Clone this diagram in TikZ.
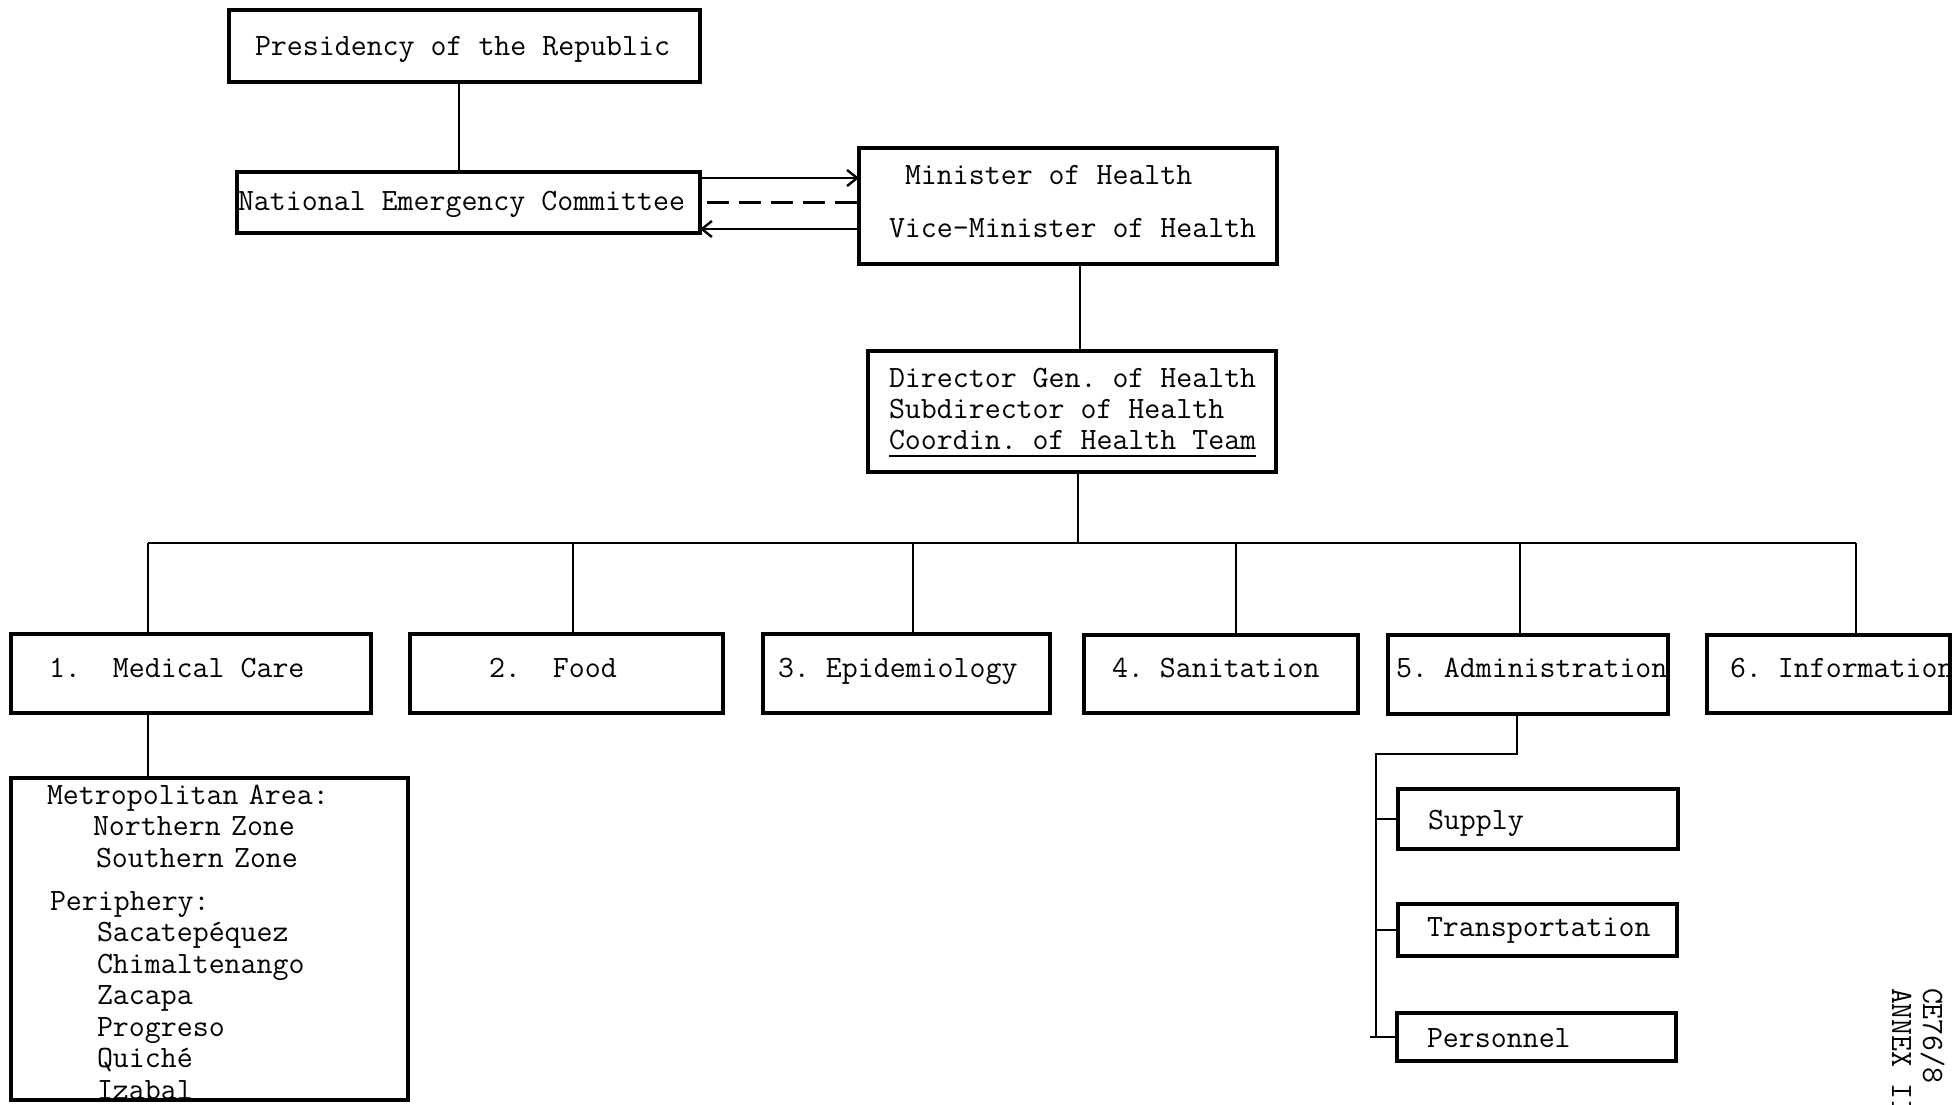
\documentclass[tikz,border=0pt]{standalone}
\usepackage{fontspec}
\usetikzlibrary{arrows.meta,calc}
\newcommand\tyfont{\fontsize{15.5}{15.75}\selectfont\ttfamily\frenchspacing}
\tikzset{
  box/.style={draw, line width=1.8pt, inner sep=0pt, outer sep=0pt, anchor=north west},
  txt/.style={inner sep=0pt, outer sep=0pt, anchor=base west, font=\tyfont},
  conn/.style={line width=1.2pt},
  arr/.style={conn, -{Straight Barb[length=5pt,width=8pt,line width=1.2pt]}},
}
\newcommand\mkbox[5]{\node[box, minimum width={(#4-#2)*0.5pt}, minimum height={(#5-#3)*0.5pt}] (#1) at (#2,#3) {};}
\begin{document}
\begin{tikzpicture}[x=0.5pt,y=-0.5pt]
\useasboundingbox (0,0) rectangle (1952,1104);
% top boxes
\mkbox{pres}{229}{10}{700}{82}
\node[txt] (prest) at (255,55) {Presidency of the Republic};
\mkbox{nec}{237}{172}{700}{233}
\node[txt] (nect) at (238,210) {National Emergency Committee};
\mkbox{min}{859}{148}{1277}{264}
\node[txt] (mint1) at (905,184) {Minister of Health};
\node[txt] (mint2) at (889,237) {Vice-Minister of Health};
\mkbox{dir}{868}{351}{1276}{472}
\node[txt] (dirt1) at (889,387) {Director Gen. of Health};
\node[txt] (dirt2) at (889,418) {Subdirector of Health};
\node[txt] (dirt3) at (889,449) {Coordin. of Health Team};
\draw[line width=1pt] ([yshift=-3.5pt]dirt3.base west) -- ([yshift=-3.5pt]dirt3.base east);
% bottom row
\mkbox{b1}{11}{634}{371}{713}
\node[txt] (t1) at (49,677) {1.~~Medical Care};
\mkbox{b2}{410}{634}{723}{713}
\node[txt] (t2) at (489,677) {2.~~Food};
\mkbox{b3}{763}{634}{1050}{713}
\node[txt] (t3) at (778,677) {3. Epidemiology};
\mkbox{b4}{1084}{635}{1358}{713}
\node[txt] (t4) at (1112,677) {4. Sanitation};
\mkbox{b5}{1388}{635}{1668}{714}
\node[txt] (t5) at (1396,677) {5. Administration};
\mkbox{b6}{1707}{635}{1950}{713}
\node[txt] (t6) at (1730,677) {6. Information};
% metro box
\mkbox{met}{11}{778}{408}{1100}
\node[txt, text width=180pt, align=left] (mett) at (47,804) {Metropolitan Area:\\
\hspace*{23pt}Northern Zone\\
\hspace*{24.5pt}Southern Zone\\[5.75pt]
\hspace*{1.5pt}Periphery:\\
\hspace*{25pt}Sacatepéquez\\
\hspace*{25pt}Chimaltenango\\
\hspace*{25pt}Zacapa\\
\hspace*{25pt}Progreso\\
\hspace*{25pt}Quiché\\
\hspace*{25pt}Izabal};
% admin sub boxes
\mkbox{sup}{1398}{789}{1678}{849}
\node[txt] (supt) at (1428,829) {Supply};
\mkbox{tra}{1398}{904}{1677}{956}
\node[txt] (trat) at (1427,936) {Transportation};
\mkbox{per}{1397}{1013}{1676}{1061}
\node[txt] (pert) at (1427,1047) {Personnel};
% rotated reference
\node[txt, rotate=-90] (ce) at (1923,988) {CE76/8};
\node[txt, rotate=-90] (annex) at (1892,988) {ANNEX II};
% connectors
\coordinate (px) at (459,120);
\draw[conn] (pres.south -| px) -- (nec.north -| px);
\draw[arr] ([yshift=12.25pt]nec.east) -- ([yshift=12.25pt]nec.east -| min.west);
\draw[conn, dash pattern=on 11pt off 5pt] ([xshift=3.5pt]nec.east) -- (nec.east -| min.west);
\draw[arr] ([yshift=-13.25pt]nec.east -| min.west) -- ([yshift=-13.25pt]nec.east);
\coordinate (cx) at (1080,300);
\draw[conn] (min.south -| cx) -- (dir.north -| cx);
\coordinate (bus) at (1078,543);
\draw[conn] (dir.south -| bus) -- (bus);
\coordinate (k1) at (148,543);
\coordinate (k2) at (573,543);
\coordinate (k3) at (913,543);
\coordinate (k4) at (1236,543);
\coordinate (k5) at (1520,543);
\coordinate (k6) at (1856,543);
\draw[conn] (k1) -- (k6);
\draw[conn] (k1) -- (k1 |- b1.north);
\draw[conn] (k2) -- (k2 |- b2.north);
\draw[conn] (k3) -- (k3 |- b3.north);
\draw[conn] (k4) -- (k4 |- b4.north);
\draw[conn] (k5) -- (k5 |- b5.north);
\draw[conn] (k6) -- (k6 |- b6.north);
\draw[conn] (b1.south -| k1) -- (met.north -| k1);
\coordinate (a1) at (1517,754);
\coordinate (a2) at (1376,754);
\draw[conn] (b5.south -| a1) -- (a1) -- (a2) -- (a2 |- per.west);
\draw[conn] (a2 |- sup.west) -- (sup.west);
\draw[conn] (a2 |- tra.west) -- (tra.west);
\draw[conn] ([xshift=-3pt]a2 |- per.west) -- (per.west);
\end{tikzpicture}
\end{document}
